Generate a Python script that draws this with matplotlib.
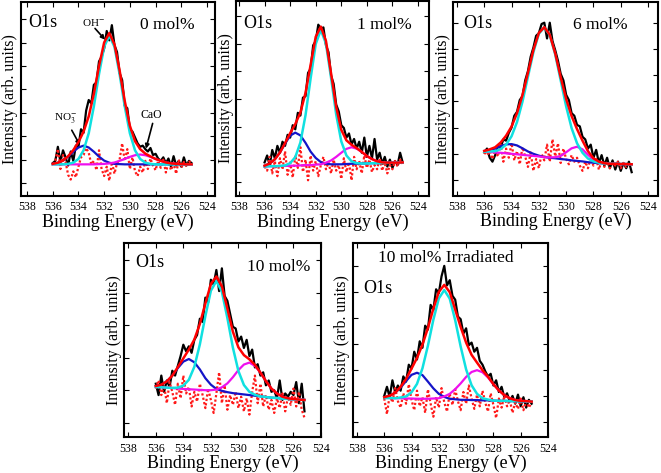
import numpy as np
import matplotlib
matplotlib.use('Agg')
import matplotlib.pyplot as plt

plt.rcParams['font.family'] = ['Liberation Serif', 'DejaVu Serif']
plt.rcParams['mathtext.fontset'] = 'stix'

# binding energies (eV) the curves were read at
e_fit = 536.0 - 0.4 * np.arange(28)
e_raw = 536.0 - 0.2 * np.arange(55)

# ---- 0 mol% ----
raw_0 = [.85, .95, 1.55, .90, 1.40, 1.10, .75, 1.35, .95, 1.60, 1.55, 2.30, 2.15, 3.10, 3.55,
         3.40, 4.20, 4.30, 5.20, 5.40, 5.75, 6.50, 6.10, 6.75, 5.90, 5.60, 4.70, 4.40, 3.30, 3.20,
         2.30, 2.20, 1.95, 1.70, 1.55, 1.60, 1.45, 1.35, 1.50, 1.20, 1.25, 1.05, .95, 1.10, .85,
         1.05, .70, 1.15, .75, .95, .70, 1.10, .75, .95, .85]
res_0 = [.80, .95, 1.45, .60, 1.20, .90, .35, .15, .50, .25, .70, 1.10, 1.20, 1.50, 1.30,
         .80, .95, .55, 1.40, .60, .30, .70, .10, .90, .40, .85, 1.00, 1.70, .95, 1.45,
         .60, 1.10, .50, .30, .70, .45, .95, .60, 1.05, .75, .55, .95, .65, 1.00, .45,
         .90, .55, .85, .40, 1.00, .65, .90, .70, .95, .80]
cyan_0 = [.80, .80, .80, .82, .87, 1.03, 1.40, 2.13, 3.28, 4.66, 5.83, 6.30, 5.83, 4.66,
          3.28, 2.13, 1.40, 1.03, .87, .82, .80, .80, .80, .80, .80, .80, .80, .80]
blue_0 = [.82, .87, .96, 1.13, 1.34, 1.52, 1.60, 1.52, 1.34, 1.13, .96, .87, .82, .81,
          .80, .80, .80, .80, .80, .80, .80, .80, .80, .80, .80, .80, .80, .80]
mag_0 = [.80, .80, .80, .80, .80, .80, .80, .80, .80, .81, .82, .84, .88, .95,
         1.03, 1.12, 1.19, 1.22, 1.19, 1.12, 1.03, .95, .88, .84, .82, .81, .80, .80]
env_0 = [.82, .87, .96, 1.15, 1.41, 1.75, 2.20, 2.85, 3.82, 5.00, 6.01, 6.41, 5.93, 4.82,
         3.51, 2.45, 1.79, 1.45, 1.26, 1.14, 1.03, .95, .88, .84, .82, .81, .80, .80]

# ---- 1 mol% ----
raw_1 = [.70, .95, .60, 1.15, .85, 1.30, 1.05, 1.45, 1.30, 1.70, 1.60, 2.05, 1.90, 2.50, 2.40,
         3.05, 3.10, 3.95, 4.10, 4.95, 5.10, 5.70, 5.55, 5.60, 4.95, 4.70, 3.85, 3.55, 2.80, 2.55,
         2.05, 1.95, 1.60, 1.75, 1.35, 1.55, 1.20, 1.45, 1.05, 1.60, .90, 1.30, .85, 1.55, .80,
         1.05, .65, .90, .55, .80, .50, .75, .60, 1.05, .70]
res_1 = [.55, .40, .90, .30, .75, .20, .85, .45, 1.10, .25, .70, .15, .95, .50, 1.25,
         .35, .80, .05, .95, .40, .75, .20, .60, .90, .45, .70, .30, .80, .40, .60,
         .10, .85, .35, .70, .05, .90, .45, .75, .30, .95, .50, .80, .35, .60, .45,
         .85, .40, .70, .30, .60, .45, .75, .55, .80, .65]
cyan_1 = [.55, .56, .56, .57, .59, .67, .89, 1.42, 2.41, 3.75, 5.00, 5.51, 5.01, 3.77,
          2.44, 1.46, .95, .74, .67, .66, .66, .67, .67, .68, .68, .69, .69, .70]
blue_1 = [.58, .66, .81, 1.06, 1.38, 1.67, 1.78, 1.68, 1.41, 1.09, .86, .71, .65, .63,
          .63, .63, .64, .65, .65, .66, .66, .67, .67, .68, .68, .69, .69, .70]
mag_1 = [.55, .56, .56, .57, .57, .58, .58, .59, .60, .60, .62, .63, .69, .77,
         .90, 1.05, 1.19, 1.25, 1.20, 1.08, .93, .82, .74, .70, .69, .69, .69, .70]
env_1 = [.58, .66, .81, 1.06, 1.40, 1.76, 2.09, 2.51, 3.22, 4.24, 5.26, 5.63, 5.11, 3.93,
         2.71, 1.88, 1.50, 1.34, 1.22, 1.08, .93, .82, .74, .70, .69, .69, .69, .70]

# ---- 6 mol% ----
raw_6 = [1.05, 1.20, .85, .70, .95, 1.30, 1.25, 1.55, 1.50, 1.80, 2.00, 2.45, 2.60, 3.05, 3.20,
         3.80, 4.15, 4.70, 5.05, 5.50, 5.60, 5.95, 6.00, 5.40, 6.00, 5.30, 4.95, 4.55, 4.05, 3.80,
         3.25, 3.05, 2.55, 2.45, 2.10, 2.05, 1.65, 1.55, 1.20, 1.35, .85, 1.15, .65, .95, .55,
         .85, .45, .75, .40, .70, .35, .65, .45, .70, .30]
res_6 = [1.05, .95, 1.10, .80, 1.15, .90, 1.35, .70, 1.20, .85, 1.40, .75, 1.10, .60, 1.25,
         .90, .50, 1.05, .35, .80, .45, 1.00, .75, 1.35, .70, 1.55, .90, 1.40, .65, 1.20,
         .80, .60, .95, .70, .85, .55, .35, .70, .45, .85, .55, .80, .40, .75, .50,
         .70, .45, .65, .55, .70, .45, .65, .50, .60, .55]
cyan_6 = [1.08, 1.09, 1.10, 1.18, 1.35, 1.67, 2.21, 2.99, 3.94, 4.88, 5.58, 5.82, 5.53, 4.79,
          3.80, 2.81, 1.98, 1.40, 1.04, .82, .71, .66, .63, .62, .62, .61, .61, .60]
blue_6 = [1.11, 1.15, 1.20, 1.29, 1.36, 1.37, 1.32, 1.21, 1.09, 1.00, .93, .88, .85, .83,
          .80, .78, .75, .73, .71, .68, .66, .64, .63, .62, .62, .61, .61, .60]
mag_6 = [1.08, 1.07, 1.05, 1.04, 1.02, 1.00, .98, .96, .94, .92, .90, .87, .86, .87,
         .92, 1.06, 1.21, 1.27, 1.17, .96, .78, .68, .64, .62, .62, .61, .61, .60]
env_6 = [1.11, 1.17, 1.25, 1.43, 1.69, 2.04, 2.55, 3.24, 4.09, 4.96, 5.61, 5.83, 5.54, 4.83,
         3.92, 3.09, 2.44, 1.94, 1.50, 1.10, .83, .70, .64, .62, .62, .61, .61, .60]

# ---- 10 mol% ----
raw_10 = [1.20, .85, 1.45, .95, 1.30, 1.10, 1.60, 1.45, 1.75, 2.05, 2.40, 2.20, 2.35, 2.15, 2.55,
          2.70, 3.20, 3.10, 3.85, 3.70, 4.40, 4.25, 4.70, 4.05, 4.75, 3.90, 3.75, 3.35, 2.95, 2.90,
          2.50, 2.65, 2.30, 2.55, 2.05, 2.25, 1.70, 1.80, 1.45, 1.55, 1.15, 1.30, .95, 1.00, .75,
          1.30, .70, .90, .80, .95, .85, 1.25, .60, 1.20, .35]
res_10 = [1.05, 1.30, .85, 1.15, .60, 1.25, .95, .55, 1.20, .75, 1.45, .90, 1.10, .50, .95,
          .65, 1.20, .85, .45, 1.05, .70, .30, .90, 1.55, .60, 1.15, .40, .85, .55, .95,
          .45, .80, .35, .75, .25, .95, 1.45, .60, 1.20, .50, .85, .40, .70, .30, .75,
          .45, .90, .35, .80, .55, 1.05, .50, .95, .40, .15]
cyan_10 = [1.10, 1.09, 1.08, 1.07, 1.08, 1.14, 1.32, 1.72, 2.41, 3.28, 4.06, 4.36, 4.03, 3.22,
           2.31, 1.59, 1.16, .95, .86, .81, .79, .77, .76, .74, .73, .72, .71, .70]
blue_10 = [1.13, 1.17, 1.27, 1.45, 1.68, 1.88, 1.96, 1.86, 1.64, 1.37, 1.17, 1.04, .98, .94,
           .91, .89, .87, .85, .83, .81, .79, .77, .76, .74, .73, .72, .71, .70]
mag_10 = [1.10, 1.09, 1.08, 1.07, 1.05, 1.04, 1.03, 1.02, 1.01, 1.00, 1.00, 1.02, 1.09, 1.21,
          1.40, 1.62, 1.79, 1.85, 1.75, 1.54, 1.28, 1.05, .90, .80, .75, .73, .71, .70]
env_10 = [1.13, 1.17, 1.27, 1.45, 1.71, 1.98, 2.25, 2.56, 3.04, 3.67, 4.27, 4.50, 4.20, 3.51,
          2.80, 2.32, 2.08, 1.95, 1.78, 1.54, 1.28, 1.05, .90, .80, .75, .73, .71, .70]

# ---- 10 mol% irradiated ----
raw_irr = [1.00, 1.35, .95, 1.60, 1.15, 1.40, 1.20, 1.75, 1.55, 2.20, 2.05, 2.70, 2.40, 3.10, 2.85,
           3.70, 3.55, 4.50, 4.30, 5.10, 4.95, 5.60, 6.00, 5.25, 5.45, 4.85, 4.70, 4.05, 3.95, 3.40,
           3.60, 2.95, 3.05, 2.70, 2.85, 2.35, 2.20, 1.95, 1.75, 1.85, 1.40, 1.60, 1.15, 1.35, .95,
           1.10, .80, 1.00, .70, 1.05, .60, .95, .55, .85, .70]
res_irr = [.90, .30, 1.05, .75, 1.30, .80, .55, 1.10, .70, 1.45, .85, .45, 1.20, .60, .95,
           .35, 1.25, .70, .20, .95, .55, 1.30, .75, .40, 1.10, .65, 1.25, .80, .45, 1.15,
           .70, 1.40, .90, .50, 1.05, .60, 1.20, .75, .40, 1.10, .65, .15, .90, .55, 1.00,
           .60, .85, .35, .75, .50, .90, .45, .80, .55, .75]
cyan_irr = [.92, .92, .91, .94, .98, 1.14, 1.46, 2.06, 2.93, 3.93, 4.75, 5.07, 4.74, 3.91,
            2.90, 2.02, 1.41, 1.08, .91, .86, .82, .81, .81, .80, .80, .79, .79, .78]
blue_irr = [.95, 1.01, 1.12, 1.32, 1.57, 1.81, 1.89, 1.80, 1.55, 1.29, 1.08, .96, .89, .87,
            .85, .85, .84, .84, .83, .83, .82, .81, .81, .80, .80, .79, .79, .78]
mag_irr = [.92, .92, .91, .91, .90, .90, .89, .89, .89, .90, .91, .98, 1.08, 1.26,
           1.48, 1.73, 1.92, 1.99, 1.91, 1.71, 1.45, 1.21, 1.03, .91, .84, .81, .80, .78]
env_irr = [.95, 1.01, 1.12, 1.35, 1.65, 2.05, 2.46, 2.97, 3.61, 4.36, 5.00, 5.27, 4.99, 4.32,
           3.65, 3.05, 2.58, 2.28, 1.99, 1.74, 1.45, 1.21, 1.03, .91, .84, .81, .80, .78]

labels = ['0 mol%', '1 mol%', '6 mol%', '10 mol%', '10 mol% Irradiated']

W, H = 661, 473
fig = plt.figure(figsize=(W / 100, H / 100), dpi=100)

# (left, top, right, bottom) in pixels, x limits, y limits, number of y ticks
boxes = [(20.7, 2, 215, 195.7), (235.7, 1, 429, 195.7), (453, 2, 658, 195.5),
         (124, 243, 321, 437), (352.7, 243, 548, 437)]
xlims = [(538.49, 523.38), (538.26, 523.14), (538.29, 523.27), (538.31, 524.09), (538.31, 524.14)]
ylims = [(-0.54, 7.74), (-0.51, 6.56), (-0.59, 6.79), (-0.44, 5.53), (-0.58, 6.88)]
nticks = [8, 7, 7, 6, 7]
# text positions, axes fraction
o1s_pos = [(.038, .892), (.038, .887), (.049, .891), (.056, .897), (.053, .763)]
lab_pos = [(.614, .88), (.628, .877), (.585, .88), (.624, .876), (.13, .923)]

data = [(raw_0, res_0, cyan_0, blue_0, mag_0, env_0),
        (raw_1, res_1, cyan_1, blue_1, mag_1, env_1),
        (raw_6, res_6, cyan_6, blue_6, mag_6, env_6),
        (raw_10, res_10, cyan_10, blue_10, mag_10, env_10),
        (raw_irr, res_irr, cyan_irr, blue_irr, mag_irr, env_irr)]

axes = []
for i, (l, t, r, b) in enumerate(boxes):
    ax = fig.add_axes([l / W, 1 - b / H, (r - l) / W, (b - t) / H])
    raw, res, cy, bl, mg, env = data[i]
    ax.plot(e_raw, raw, color='black', lw=1.6, zorder=2)
    ax.plot(e_raw, res, color='#ff1a1a', lw=1.6, ls=(0, (1, 1)), zorder=3)
    ax.plot(e_fit, bl, color='#1414c8', lw=1.6, zorder=4)
    ax.plot(e_fit, mg, color='#ee10ee', lw=1.6, zorder=4)
    ax.plot(e_fit, cy, color='#10e0e0', lw=1.8, zorder=5)
    ax.plot(e_fit, env, color='#ff0000', lw=1.8, zorder=6)

    ax.set_xlim(*xlims[i])
    ax.set_ylim(*ylims[i])
    ax.set_xticks(np.arange(538, 523, -2))
    ax.set_yticks(np.arange(nticks[i]))
    ax.set_yticklabels([])
    ax.tick_params(direction='in', length=3.5, width=0.8, top=True, right=True,
                   labelsize=8.5, pad=4)
    for s in ax.spines.values():
        s.set_linewidth(1.5)
    ax.set_xlabel('Binding Energy (eV)', fontsize=13, labelpad=0)
    ax.set_ylabel('Intensity (arb. units)', fontsize=11.5)
    # label foot sits ~2 px left of the frame
    ax.yaxis.set_label_coords(-2.2 / (r - l), 0.5)
    ax.text(*o1s_pos[i], 'O1s', transform=ax.transAxes, fontsize=13, va='center', ha='left')
    ax.text(*lab_pos[i], labels[i], transform=ax.transAxes, fontsize=12.5, va='center', ha='left')
    axes.append(ax)

# peak assignments on the 0 mol% panel
ax = axes[0]
ax.text(532.84, 6.85, 'OH$^{-}$', fontsize=8, ha='center', va='center')
ax.annotate('', xy=(531.93, 6.13), xytext=(532.71, 6.61),
            arrowprops=dict(arrowstyle='-|>', lw=1.2, color='black', mutation_scale=6,
                            shrinkA=0, shrinkB=0))
ax.text(534.97, 2.78, 'NO$_3^{-}$', fontsize=8, ha='center', va='center')
ax.annotate('', xy=(533.88, 1.62), xytext=(534.52, 2.26),
            arrowprops=dict(arrowstyle='-|>', lw=1.2, color='black', mutation_scale=6,
                            shrinkA=0, shrinkB=0))
ax.text(528.36, 2.91, 'CaO', fontsize=8.5, ha='center', va='center')
ax.annotate('', xy=(528.75, 1.47), xytext=(528.23, 2.55),
            arrowprops=dict(arrowstyle='-|>', lw=1.2, color='black', mutation_scale=6,
                            shrinkA=0, shrinkB=0))

fig.savefig('out.png', dpi=100)
